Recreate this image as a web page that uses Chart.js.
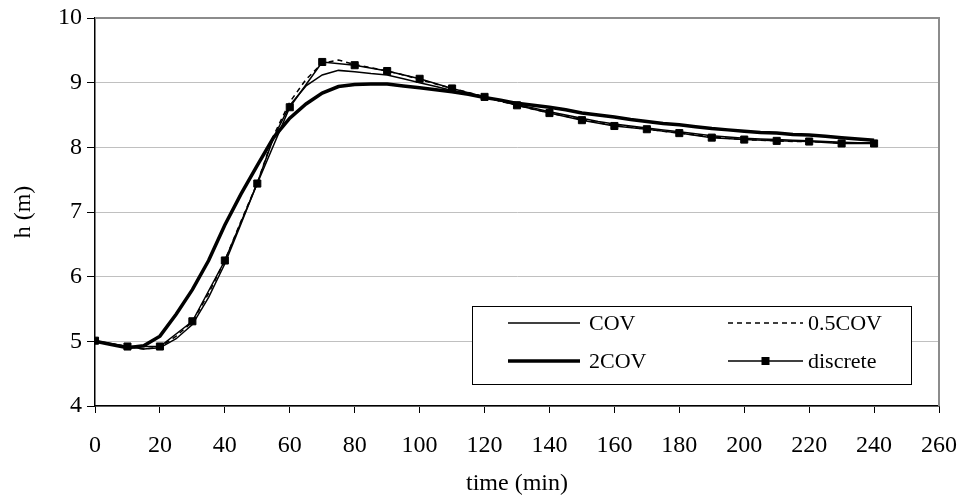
<!DOCTYPE html>
<html>
<head>
<meta charset="utf-8">
<script src="https://cdn.jsdelivr.net/npm/chart.js@4.4.0/dist/chart.umd.min.js"></script>
<style>
  html, body { margin: 0; padding: 0; background: #fff; }
  #wrap { width: 959px; height: 498px; }
</style>
</head>
<body>
<div id="wrap"><canvas id="grafica" width="959" height="498"></canvas></div>
<script>
// time (min) for the continuous curves
const tiempos = [0, 5, 10, 15, 20, 25, 30, 35, 40, 45, 50, 55, 60, 65, 70, 75, 80, 85, 90, 95,
  100, 105, 110, 115, 120, 125, 130, 135, 140, 145, 150, 155, 160, 165, 170, 175, 180, 185, 190, 195,
  200, 205, 210, 215, 220, 225, 230, 235, 240];
const cov = [5.00, 4.96, 4.92, 4.88, 4.90, 5.04, 5.26, 5.68, 6.20, 6.82, 7.45, 8.15, 8.65, 8.95, 9.12, 9.19, 9.17, 9.14, 9.12, 9.06,
  9.00, 8.94, 8.88, 8.83, 8.77, 8.72, 8.66, 8.61, 8.55, 8.50, 8.45, 8.40, 8.36, 8.33, 8.30, 8.27, 8.24, 8.21, 8.18, 8.16,
  8.14, 8.13, 8.12, 8.11, 8.10, 8.09, 8.08, 8.07, 8.07];
const cov05 = [5.00, 4.96, 4.92, 4.88, 4.91, 5.08, 5.30, 5.74, 6.25, 6.86, 7.45, 8.18, 8.70, 9.05, 9.30, 9.35, 9.28, 9.23, 9.18, 9.12,
  9.05, 8.98, 8.91, 8.85, 8.78, 8.71, 8.65, 8.59, 8.53, 8.48, 8.43, 8.38, 8.34, 8.31, 8.28, 8.25, 8.22, 8.19, 8.16, 8.14,
  8.12, 8.11, 8.10, 8.09, 8.09, 8.08, 8.07, 8.07, 8.06];
const cov2 = [5.00, 4.95, 4.90, 4.93, 5.08, 5.42, 5.80, 6.25, 6.80, 7.28, 7.72, 8.15, 8.45, 8.67, 8.84, 8.94, 8.97, 8.98, 8.98, 8.95,
  8.92, 8.89, 8.86, 8.82, 8.77, 8.73, 8.68, 8.65, 8.62, 8.58, 8.53, 8.50, 8.47, 8.43, 8.40, 8.37, 8.35, 8.32, 8.29, 8.27,
  8.25, 8.23, 8.22, 8.20, 8.19, 8.17, 8.15, 8.13, 8.11];

// discrete model, every 10 min
const tiemposDiscretos = [0, 10, 20, 30, 40, 50, 60, 70, 80, 90, 100, 110, 120, 130, 140, 150, 160, 170, 180, 190, 200, 210, 220, 230, 240];
const discreto = [5.01, 4.92, 4.92, 5.31, 6.25, 7.44, 8.62, 9.32, 9.27, 9.18, 9.06, 8.91, 8.78, 8.65, 8.53, 8.42, 8.33, 8.28, 8.22, 8.15, 8.12, 8.10, 8.09, 8.06, 8.06];

const puntos = (xs, ys) => xs.map((x, i) => ({ x: x, y: ys[i] }));

const fuente = '"Liberation Serif", "Times New Roman", serif';

// grey frame on top and right of the plot
const marco = {
  id: 'marco',
  beforeDatasetsDraw(chart) {
    const { ctx, chartArea: a } = chart;
    ctx.save();
    ctx.strokeStyle = '#8c8c8c';
    ctx.lineWidth = 2;
    ctx.beginPath();
    ctx.moveTo(a.left, a.top);
    ctx.lineTo(a.right, a.top);
    ctx.lineTo(a.right, a.bottom);
    ctx.stroke();
    ctx.restore();
  }
};

// boxed legend, 2 x 2, inside the plot
const leyenda = {
  id: 'leyenda',
  afterDraw(chart) {
    const ctx = chart.ctx;
    const box = { x: 472, y: 306, w: 439, h: 78 };
    const cols = [{ a: 508, b: 580, t: 589 }, { a: 728, b: 803, t: 808 }];
    const rows = [323, 361];
    ctx.save();
    ctx.fillStyle = '#fff';
    ctx.fillRect(box.x, box.y, box.w, box.h);
    ctx.strokeStyle = '#000';
    ctx.lineWidth = 1;
    ctx.strokeRect(box.x + 0.5, box.y + 0.5, box.w, box.h);
    ctx.font = '22px ' + fuente;
    ctx.textBaseline = 'middle';
    ctx.fillStyle = '#000';
    chart.data.datasets.forEach((ds, i) => {
      const c = cols[i % 2], y = rows[Math.floor(i / 2)];
      ctx.beginPath();
      ctx.setLineDash(ds.borderDash || []);
      ctx.lineWidth = ds.borderWidth;
      ctx.moveTo(c.a, y);
      ctx.lineTo(c.b, y);
      ctx.stroke();
      ctx.setLineDash([]);
      if (ds.pointRadius) ctx.fillRect((c.a + c.b) / 2 - 4, y - 4, 8, 8);
      ctx.fillText(ds.label, c.t, y + 1);
    });
    ctx.restore();
  }
};

new Chart(document.getElementById('grafica'), {
  type: 'line',
  data: {
    datasets: [{
      label: 'COV',
      data: puntos(tiempos, cov),
      borderColor: '#000',
      borderWidth: 1.5,
      pointRadius: 0,
      fill: false
    }, {
      label: '0.5COV',
      data: puntos(tiempos, cov05),
      borderColor: '#000',
      borderWidth: 1.5,
      borderDash: [5, 4],
      pointRadius: 0,
      fill: false
    }, {
      label: '2COV',
      data: puntos(tiempos, cov2),
      borderColor: '#000',
      borderWidth: 3.5,
      pointRadius: 0,
      fill: false
    }, {
      label: 'discrete',
      data: puntos(tiemposDiscretos, discreto),
      borderColor: '#000',
      backgroundColor: '#000',
      borderWidth: 1.5,
      pointStyle: 'rect',
      pointRadius: 5,
      pointBorderWidth: 1,
      fill: false
    }]
  },
  options: {
    responsive: false,
    animation: false,
    devicePixelRatio: 1,
    layout: { padding: { top: 18, right: 20, left: 0, bottom: 0 } },
    plugins: {
      legend: { display: false },
      tooltip: { enabled: false }
    },
    scales: {
      x: {
        type: 'linear',
        min: 0,
        max: 260,
        afterFit: s => { s.height = 92; s.paddingLeft = 0; s.paddingRight = 0; },
        ticks: { stepSize: 20, color: '#000', padding: 18, maxRotation: 0, font: { family: fuente, size: 24 } },
        grid: { drawOnChartArea: false, drawTicks: true, tickLength: 7, color: '#000' },
        border: { color: '#000', width: 1.5 },
        title: { display: true, text: 'time (min)', color: '#000', padding: { top: 0, bottom: 0 }, font: { family: fuente, size: 24 } }
      },
      y: {
        min: 4,
        max: 10,
        afterFit: s => { s.width = 95; s.paddingTop = 0; s.paddingBottom = 0; },
        ticks: { stepSize: 1, color: '#000', padding: 5, font: { family: fuente, size: 24 } },
        grid: { color: '#c0c0c0', tickColor: '#000', tickLength: 8 },
        border: { color: '#000', width: 1.5 },
        title: { display: true, text: 'h (m)', color: '#000', padding: { top: 9, bottom: 0 }, font: { family: fuente, size: 24 } }
      }
    }
  },
  plugins: [marco, leyenda]
});
</script>
</body>
</html>
